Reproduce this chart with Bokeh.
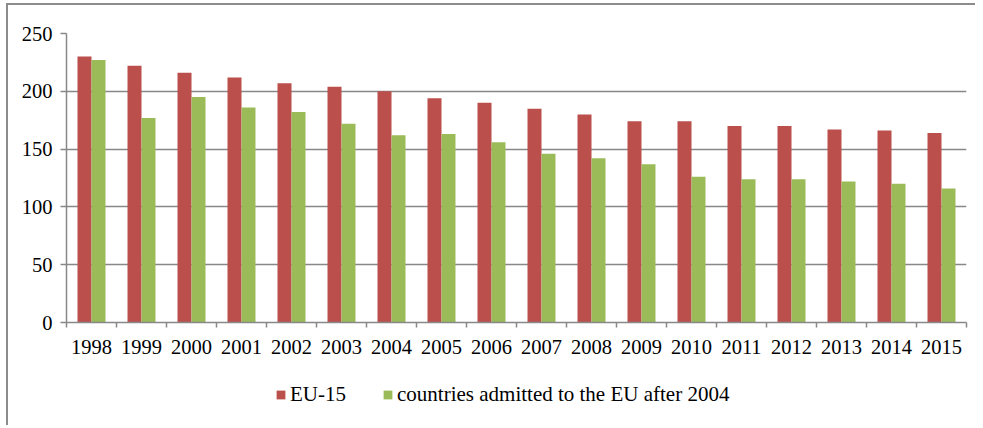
from bokeh.plotting import figure
from bokeh.layouts import column
from bokeh.models import FixedTicker, Legend, LegendItem, Range1d
from bokeh.embed import file_html
from bokeh.resources import INLINE

years = list(range(1998, 2016))
eu15 = [230, 222, 216, 212, 207, 204, 200, 194, 190, 185, 180, 174, 174, 170, 170, 167, 166, 164]
new_members = [227, 177, 195, 186, 182, 172, 162, 163, 156, 146, 142, 137, 126, 124, 124, 122, 120, 116]
y_ticks = [0, 50, 100, 150, 200, 250]
series_names = ["EU-15", "countries admitted to the EU after 2004"]

RED = "#BA4F4C"
GREEN = "#9BBB59"
GRID = "#888888"
FONT = "Liberation Serif"
FS = "20.5px"

p = figure(width=967, height=362, output_backend="svg", toolbar_location=None,
           x_range=Range1d(years[0] - 0.5, years[-1] + 0.5), y_range=Range1d(0, 250),
           min_border_left=58, min_border_top=28, min_border_right=9, min_border_bottom=45)
p.outline_line_color = None
p.background_fill_color = "white"
p.border_fill_color = "white"

bw = 0.28
p.vbar(x=[x - bw / 2 for x in years], top=eu15, width=bw, fill_color=RED, line_color=None)
p.vbar(x=[x + bw / 2 for x in years], top=new_members, width=bw, fill_color=GREEN, line_color=None)

p.xaxis.ticker = FixedTicker(ticks=years, minor_ticks=[y - 0.5 for y in years] + [years[-1] + 0.5])
p.xaxis.major_tick_line_color = None
p.xaxis.major_tick_out = 0
p.xaxis.major_tick_in = 0
p.xaxis.minor_tick_out = 5
p.xaxis.minor_tick_in = 0
p.xaxis.minor_tick_line_color = GRID
p.xaxis.minor_tick_line_width = 1.5
p.xaxis.major_label_standoff = 12

p.yaxis.ticker = FixedTicker(ticks=y_ticks)
p.yaxis.major_tick_out = 6
p.yaxis.major_tick_in = 0
p.yaxis.minor_tick_line_color = None
p.yaxis.major_tick_line_color = GRID
p.yaxis.major_tick_line_width = 1.5
p.yaxis.major_label_standoff = 8

for ax in (p.xaxis[0], p.yaxis[0]):
    ax.axis_line_color = GRID
    ax.axis_line_width = 1.5
    ax.major_label_text_font = FONT
    ax.major_label_text_font_size = FS
    ax.major_label_text_color = "black"

p.xgrid.grid_line_color = None
p.ygrid.ticker = FixedTicker(ticks=y_ticks[1:])
p.ygrid.grid_line_color = GRID
p.ygrid.grid_line_width = 1.5

# legend panel (dummy renderers lie outside the visible range; they only supply legend swatches)
leg = figure(width=967, height=58, output_backend="svg", toolbar_location=None,
             x_range=Range1d(0, 1), y_range=Range1d(0, 1),
             min_border_left=0, min_border_right=0, min_border_top=0, min_border_bottom=0)
leg.axis.visible = False
leg.grid.visible = False
leg.outline_line_color = None
d1 = leg.vbar(x=[-5], top=[0], width=0.1, fill_color=RED, line_color=None)
d2 = leg.vbar(x=[-5], top=[0], width=0.1, fill_color=GREEN, line_color=None)
legend = Legend(items=[LegendItem(label=series_names[0], renderers=[d1]),
                       LegendItem(label=series_names[1], renderers=[d2])],
                orientation="horizontal", location=(209, 18),
                glyph_width=11, glyph_height=11, label_standoff=4, spacing=36,
                padding=0, margin=0, border_line_color=None, background_fill_alpha=0,
                label_text_font=FONT, label_text_font_size="21px", label_height=20,
                label_text_color="black")
leg.add_layout(legend, "center")

layout = column(p, leg, spacing=0)
layout.styles = {"border-left": "2px solid #8c8c8c", "border-top": "2px solid #8c8c8c",
                 "margin-left": "6px", "margin-top": "3px"}

open("out.html", "w").write(file_html(layout, INLINE))
